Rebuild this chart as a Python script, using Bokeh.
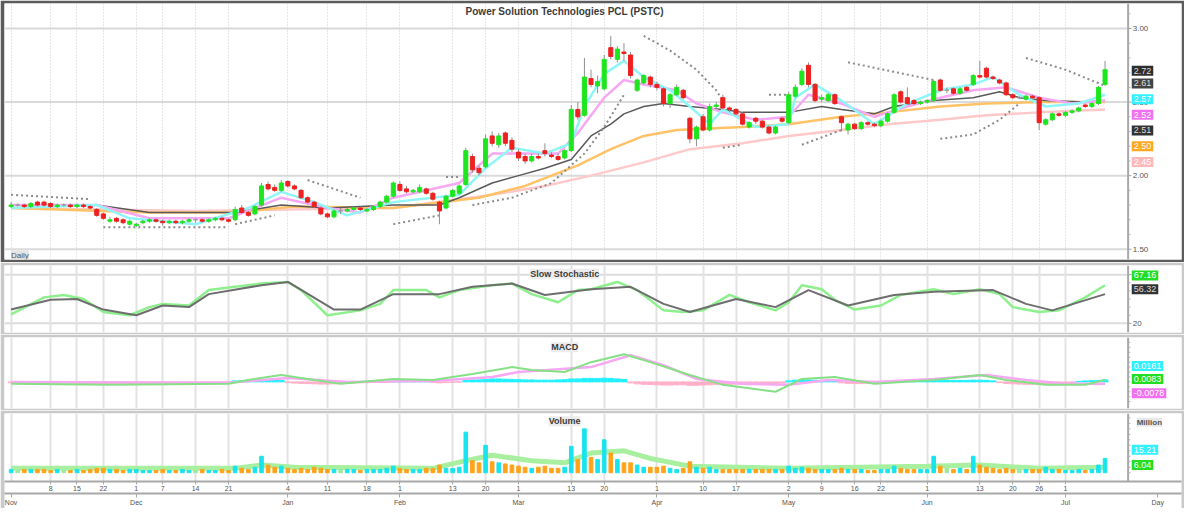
from bokeh.plotting import figure
from bokeh.models import (LinearAxis, Range1d, FixedTicker, Label, Grid, Span)
from bokeh.layouts import column
from bokeh.embed import file_html
from bokeh.resources import INLINE
from bokeh.core.properties import value

# ---------------- data ----------------
opens = [1.79,1.80,1.80,1.79,1.82,1.82,1.81,1.79,1.80,1.80,
         1.79,1.80,1.79,1.77,1.74,1.69,1.71,1.70,1.67,1.66,
         1.68,1.69,1.70,1.69,1.68,1.69,1.68,1.69,1.70,1.70,
         1.69,1.70,1.71,1.70,1.70,1.78,1.75,1.74,1.80,1.94,
         1.92,1.90,1.96,1.93,1.90,1.85,1.82,1.78,1.74,1.72,
         1.76,1.76,1.77,1.78,1.76,1.77,1.79,1.82,1.86,1.94,
         1.91,1.89,1.89,1.91,1.88,1.82,1.78,1.86,1.88,1.94,
         2.13,2.05,2.06,2.27,2.21,2.29,2.24,2.16,2.13,2.10,
         2.13,2.17,2.14,2.13,2.12,2.17,2.45,2.41,2.66,2.61,
         2.59,2.87,2.79,2.84,2.82,2.58,2.63,2.67,2.62,2.59,
         2.49,2.55,2.58,2.39,2.25,2.40,2.31,2.47,2.53,2.46,
         2.45,2.42,2.33,2.39,2.37,2.33,2.29,2.39,2.36,2.54,
         2.62,2.75,2.62,2.52,2.51,2.55,2.40,2.31,2.35,2.32,
         2.36,2.35,2.34,2.37,2.43,2.57,2.53,2.51,2.49,2.50,
         2.51,2.65,2.58,2.59,2.56,2.60,2.62,2.68,2.73,2.67,
         2.65,2.63,2.55,2.53,2.52,2.54,2.53,2.35,2.38,2.42,
         2.41,2.43,2.44,2.48,2.47,2.49,2.62]
highs = [1.82,1.81,1.81,1.82,1.83,1.83,1.82,1.81,1.81,1.81,
         1.81,1.81,1.80,1.78,1.75,1.72,1.72,1.71,1.70,1.68,
         1.70,1.71,1.71,1.70,1.70,1.70,1.70,1.71,1.71,1.71,
         1.71,1.72,1.72,1.71,1.79,1.80,1.76,1.80,1.95,1.96,
         1.94,1.97,1.97,1.94,1.91,1.86,1.83,1.79,1.75,1.77,
         1.78,1.78,1.79,1.79,1.78,1.80,1.83,1.87,1.96,1.96,
         1.93,1.91,1.94,1.92,1.89,1.83,1.87,1.91,1.94,2.19,
         2.15,2.07,2.28,2.30,2.29,2.30,2.26,2.18,2.15,2.15,
         2.15,2.22,2.16,2.15,2.18,2.48,2.50,2.80,2.72,2.68,
         2.82,2.95,2.88,2.90,2.84,2.66,2.69,2.68,2.64,2.60,
         2.56,2.62,2.59,2.40,2.34,2.42,2.49,2.50,2.55,2.47,
         2.46,2.43,2.37,2.40,2.38,2.34,2.34,2.40,2.57,2.62,
         2.73,2.77,2.63,2.55,2.56,2.56,2.41,2.36,2.36,2.37,
         2.37,2.36,2.38,2.43,2.56,2.58,2.60,2.52,2.51,2.52,
         2.65,2.66,2.60,2.60,2.60,2.61,2.69,2.78,2.74,2.68,
         2.66,2.64,2.56,2.54,2.55,2.55,2.54,2.39,2.43,2.43,
         2.44,2.45,2.47,2.49,2.50,2.61,2.78]
lows = [1.78,1.79,1.78,1.78,1.79,1.79,1.78,1.78,1.79,1.78,
        1.78,1.78,1.77,1.72,1.70,1.68,1.68,1.67,1.66,1.65,
        1.67,1.68,1.68,1.66,1.67,1.67,1.67,1.68,1.68,1.68,
        1.68,1.69,1.69,1.68,1.69,1.74,1.72,1.73,1.79,1.90,
        1.89,1.89,1.92,1.90,1.84,1.81,1.78,1.73,1.71,1.71,
        1.74,1.75,1.76,1.76,1.75,1.76,1.78,1.81,1.85,1.89,
        1.88,1.88,1.88,1.87,1.83,1.67,1.77,1.85,1.87,1.93,
        2.02,2.00,2.05,2.20,2.19,2.20,2.16,2.10,2.08,2.09,
        2.11,2.13,2.12,2.10,2.11,2.16,2.38,2.40,2.60,2.56,
        2.58,2.79,2.77,2.78,2.66,2.57,2.62,2.60,2.58,2.47,
        2.46,2.54,2.52,2.22,2.20,2.30,2.30,2.45,2.45,2.43,
        2.41,2.34,2.32,2.35,2.32,2.28,2.28,2.36,2.35,2.53,
        2.61,2.60,2.50,2.50,2.50,2.48,2.30,2.28,2.31,2.31,
        2.34,2.33,2.33,2.36,2.42,2.49,2.48,2.48,2.48,2.49,
        2.50,2.57,2.56,2.55,2.55,2.57,2.61,2.66,2.66,2.65,
        2.62,2.54,2.52,2.52,2.51,2.52,2.31,2.34,2.37,2.40,
        2.40,2.42,2.43,2.46,2.46,2.48,2.61]
closes = [1.80,1.80,1.79,1.81,1.80,1.80,1.79,1.80,1.80,1.79,
          1.80,1.79,1.78,1.73,1.71,1.70,1.69,1.68,1.69,1.67,
          1.69,1.70,1.69,1.68,1.69,1.68,1.69,1.70,1.70,1.69,
          1.70,1.71,1.70,1.69,1.77,1.75,1.73,1.79,1.93,1.91,
          1.90,1.95,1.93,1.91,1.85,1.82,1.79,1.74,1.72,1.76,
          1.76,1.77,1.78,1.77,1.77,1.79,1.82,1.86,1.95,1.90,
          1.89,1.90,1.92,1.88,1.84,1.76,1.86,1.90,1.93,2.17,
          2.04,2.02,2.25,2.22,2.27,2.22,2.18,2.12,2.10,2.13,
          2.12,2.15,2.13,2.11,2.17,2.45,2.40,2.67,2.62,2.64,
          2.79,2.81,2.86,2.83,2.68,2.65,2.68,2.62,2.60,2.49,
          2.55,2.60,2.53,2.25,2.33,2.31,2.47,2.48,2.46,2.45,
          2.42,2.35,2.36,2.37,2.33,2.29,2.33,2.37,2.55,2.60,
          2.71,2.62,2.51,2.53,2.55,2.49,2.36,2.35,2.32,2.36,
          2.35,2.34,2.37,2.42,2.55,2.50,2.49,2.49,2.50,2.51,
          2.64,2.58,2.58,2.56,2.59,2.58,2.68,2.67,2.67,2.66,
          2.63,2.55,2.53,2.53,2.54,2.53,2.36,2.38,2.42,2.41,
          2.43,2.44,2.46,2.47,2.49,2.60,2.72]
volume = [3,2,3,3,3,3,2,3,2,2,
          3,2,3,4,4,3,3,2,3,3,
          2,2,2,3,2,2,3,2,2,3,
          2,2,3,2,6,4,3,5,15,7,
          5,6,4,3,4,3,5,4,3,3,
          3,3,3,2,3,3,3,4,6,4,
          3,3,3,4,4,7,4,4,5,37,
          11,9,25,10,9,8,7,6,5,4,
          5,6,4,4,5,24,12,40,14,12,
          30,18,12,9,9,7,5,5,5,6,
          4,3,4,10,5,4,5,3,3,3,
          3,3,3,3,3,3,3,3,6,4,
          5,4,3,3,3,3,4,3,3,3,
          2,2,3,3,6,4,3,3,3,3,
          15,6,4,3,4,3,15,7,5,4,
          3,4,3,3,3,3,3,5,3,3,
          2,2,3,2,3,7,13]
macd_hist = [-0.004,-0.005,-0.006,-0.006,-0.007,-0.007,-0.006,-0.006,-0.005,-0.005,
             -0.006,-0.007,-0.008,-0.009,-0.009,-0.008,-0.008,-0.007,-0.007,-0.006,
             -0.006,-0.006,-0.005,-0.005,-0.005,-0.004,-0.004,-0.004,-0.004,-0.003,
             -0.003,-0.003,-0.002,-0.002,0.004,0.006,0.007,0.008,0.010,0.010,
             0.008,0.006,-0.003,-0.005,-0.006,-0.007,-0.008,-0.009,-0.009,-0.008,
             -0.007,-0.006,-0.005,-0.004,-0.003,-0.002,-0.002,-0.001,0.003,0.005,
             0.006,0.005,0.004,0.002,-0.002,-0.004,-0.003,-0.002,-0.001,0.006,
             0.008,0.008,0.010,0.012,0.012,0.011,0.010,0.009,0.008,0.008,
             0.007,0.007,0.007,0.008,0.009,0.012,0.012,0.014,0.014,0.014,
             0.015,0.014,0.012,0.010,-0.004,-0.008,-0.010,-0.011,-0.012,-0.013,
             -0.013,-0.012,-0.012,-0.014,-0.014,-0.013,-0.012,-0.011,-0.010,-0.010,
             -0.009,-0.009,-0.008,-0.008,-0.007,-0.007,-0.006,-0.004,0.004,0.007,
             0.008,0.008,0.007,0.006,0.004,0.002,-0.004,-0.006,-0.007,-0.007,
             -0.006,-0.005,-0.004,-0.002,0.003,0.005,0.006,0.006,0.006,0.006,
             0.007,0.007,0.006,0.006,0.006,0.006,0.007,0.007,0.006,0.004,
             -0.003,-0.006,-0.008,-0.009,-0.010,-0.010,-0.011,-0.010,-0.009,-0.008,
             -0.006,-0.003,0.002,0.004,0.005,0.006,0.008]

# moving averages (bar index, price) read at sparse points
ma_fast_x = [0,13,18,28,36,41,46,51,58,68,72,76,81,85,87,90,93,96,100,103,106,108,113,118,119,122,126,131,136,141,146,149,153,157,162,166]
ma_fast_y = [1.78,1.80,1.71,1.67,1.78,1.89,1.82,1.73,1.82,1.87,2.05,2.19,2.15,2.22,2.47,2.69,2.78,2.67,2.58,2.47,2.35,2.45,2.33,2.35,2.53,2.62,2.51,2.35,2.49,2.58,2.62,2.67,2.55,2.47,2.49,2.55]
ma_mid_x = [0,13,21,33,41,48,53,58,68,73,78,83,86,90,93,96,101,104,108,113,118,121,126,131,136,141,146,151,156,161,166]
ma_mid_y = [1.80,1.80,1.71,1.71,1.85,1.78,1.75,1.85,1.95,2.15,2.15,2.15,2.29,2.53,2.65,2.62,2.58,2.49,2.43,2.38,2.40,2.55,2.49,2.40,2.47,2.53,2.58,2.60,2.53,2.49,2.51]
ma_slow_x = [0,13,21,28,34,41,48,58,65,68,73,77,81,85,88,91,93,96,99,103,108,111,118,123,126,131,134,140,146,150,153,157,163,166]
ma_slow_y = [1.80,1.80,1.75,1.75,1.75,1.80,1.78,1.80,1.80,1.85,1.95,2.00,2.05,2.11,2.27,2.35,2.42,2.47,2.49,2.47,2.45,2.43,2.43,2.47,2.45,2.42,2.47,2.51,2.53,2.57,2.53,2.51,2.50,2.51]
ma_orange_x = [0,21,34,43,58,71,78,86,91,96,101,106,111,118,126,133,141,148,156,166]
ma_orange_y = [1.78,1.75,1.75,1.79,1.78,1.85,1.93,2.07,2.18,2.27,2.31,2.32,2.33,2.35,2.40,2.43,2.47,2.49,2.50,2.50]
ma_pink_x = [0,28,58,73,81,88,96,103,111,118,126,133,141,148,156,166]
ma_pink_y = [1.78,1.76,1.78,1.87,1.93,2.00,2.09,2.18,2.22,2.27,2.31,2.35,2.38,2.41,2.43,2.45]

# parabolic SAR segments (bar index, price)
sar_segments = [
    ([0, 12], [1.87, 1.84]),
    ([14, 33], [1.65, 1.65]),
    ([34, 40], [1.67, 1.73]),
    ([45, 53], [1.97, 1.85]),
    ([58, 65], [1.67, 1.73]),
    ([66, 68], [1.99, 1.99]),
    ([70, 76, 82, 87, 90, 93], [1.80, 1.85, 1.95, 2.15, 2.33, 2.55]),
    ([96, 100, 104, 107, 108], [2.95, 2.85, 2.72, 2.58, 2.51]),
    ([108, 111], [2.19, 2.21]),
    ([115, 118], [2.55, 2.55]),
    ([120, 126], [2.21, 2.31]),
    ([127, 140], [2.77, 2.65]),
    ([141, 146, 150, 153], [2.25, 2.28, 2.38, 2.49]),
    ([154, 160, 166], [2.80, 2.72, 2.61]),
]

# slow stochastic
stk_x = [0,5,8,11,14,18,21,23,27,30,34,38,42,44,48,53,56,58,63,65,68,73,76,79,83,86,88,92,95,99,102,105,109,112,116,118,120,123,125,128,132,135,140,143,147,150,152,156,159,163,166]
stk_y = [31,52,55,50,34,30,40,44,42,61,65,69,71,61,30,36,44,61,61,52,61,67,69,56,46,61,62,71,61,36,34,36,55,46,36,46,67,62,49,37,42,55,62,56,62,56,40,34,36,52,67]
std_x = [0,6,10,14,19,23,27,30,38,42,49,53,58,65,70,76,81,88,94,99,103,110,116,121,127,134,140,149,154,158,166]
std_y = [37,49,50,37,30,42,40,56,67,71,37,37,56,56,65,69,55,62,65,44,34,50,40,61,42,55,59,61,44,36,56]

# MACD lines
macd_x = [0,15,33,36,41,45,50,58,64,70,76,79,84,88,93,97,103,108,116,120,125,131,140,147,151,157,163,166]
macd_y = [-0.008,-0.012,-0.008,0.008,0.028,0.012,-0.008,0.012,0.008,0.032,0.060,0.048,0.040,0.080,0.112,0.080,0.028,-0.012,-0.040,0.012,0.020,-0.008,0.008,0.028,0.008,-0.012,-0.012,0.008]
sig_x = [0,33,42,51,64,73,77,88,94,99,104,111,118,124,131,140,148,154,160,166]
sig_y = [0.0,-0.004,0.016,0.0,0.004,0.020,0.040,0.060,0.108,0.068,0.012,-0.008,-0.012,0.008,0.0,0.012,0.028,0.008,-0.008,-0.008]

# volume average
vma_x = [0,34,38,43,64,69,73,79,84,88,93,97,103,118,139,147,156,166]
vma_y = [4,4,7,5,4,11,16,11,9,18,20,13,6,4,6,7,4,5]

# axis ticks and labels
price_ticks = [1.5, 2.0, 2.5, 3.0]
price_labels = ["1.50", "2.00", "2.50", "3.00"]
stoch_ticks = [20, 80]
stoch_labels = ["20", "80"]
day_ticks = [6,10,14,19,23,28,33,42,48,54,59,67,72,77,85,90,98,105,110,118,123,128,132,139,147,152,156,160]
day_labels = ["8","15","22","1","7","14","21","4","11","18","1","13","20","1","13","20","1","10","17","2","9","16","22","1","13","20","26","1"]
month_ticks = [0,19,42,59,77,98,118,139,160]
month_labels = ["Nov","Dec","Jan","Feb","Mar","Apr","May","Jun","Jul"]

# ---------------- styling ----------------
FONT = "Liberation Sans"
W = 1184
N = len(closes)
bars = list(range(N))
AX = 169.5          # position of the price-scale line
xr = Range1d(-1.0, 177.6)
grid_ticks = sorted(set(day_ticks + month_ticks))

UP, DOWN, FLAT = "#1ee61e", "#ee2020", "#9a9a9a"
body_col = [UP if c > o else (DOWN if c < o else FLAT) for o, c in zip(opens, closes)]
vol_col = ["#19e3ee" if c > o else ("#ffa31a" if c < o else "#9ee89e") for o, c in zip(opens, closes)]
body_top = [max(o, c) for o, c in zip(opens, closes)]
body_bot = [min(o, c) for o, c in zip(opens, closes)]


def base_fig(height, yr, border, top=3, bottom=2):
    f = figure(width=W, height=height, x_range=xr, y_range=Range1d(*yr),
               output_backend="svg", toolbar_location=None,
               x_axis_location=None, y_axis_location=None,
               min_border_left=4, min_border_right=3,
               min_border_top=top, min_border_bottom=bottom,
               border_fill_color=border, background_fill_color="white",
               outline_line_color=None)
    f.xgrid.visible = False
    f.ygrid.visible = False
    return f


def vgrid(f, dash=None, color="#e2e2e2", width=2):
    g = Grid(dimension=0, ticker=FixedTicker(ticks=grid_ticks),
             grid_line_color=color, grid_line_width=width)
    if dash:
        g.grid_line_dash = dash
    f.add_layout(g)


def hgrid(f, ticks, color="#dadada", width=2):
    f.segment(x0=[-1.0] * len(ticks), x1=[AX] * len(ticks), y0=ticks, y1=ticks,
              line_color=color, line_width=width, level="underlay")


def price_scale(f, ticks=None, labels=None, y0=0.0, y1=1.0, minor=None):
    f.add_layout(Span(location=AX, dimension="height", line_color="#a8a8a8", line_width=2))
    if minor:
        f.segment(x0=[AX] * len(minor), x1=[AX + 0.35] * len(minor), y0=minor, y1=minor,
                  line_color="#b4b4b4", line_width=1)
    if ticks:
        f.segment(x0=[AX] * len(ticks), x1=[AX + 0.5] * len(ticks), y0=ticks, y1=ticks,
                  line_color="#a0a0a0", line_width=1)
    if labels:
        f.text(x=[AX + 0.7] * len(ticks), y=ticks, text=labels,
               text_font=value(FONT), text_font_size=value("8px"),
               text_color="#555555", text_baseline="middle", text_align="left")


def box(f, y, text, bg, fg="white"):
    f.add_layout(Label(x=AX + 0.55, y=y, text=text, text_font=FONT, text_font_size="9px",
                       text_color=fg, text_baseline="middle", text_align="left",
                       background_fill_color=bg, background_fill_alpha=1.0,
                       padding=2))


def title(f, x, y, text, size="9px", bg=None):
    lab = Label(x=x, y=y, text=text, text_font=FONT, text_font_size=size,
                text_font_style="bold", text_color="#3c3c3c",
                text_align="center", text_baseline="middle")
    if bg:
        lab.background_fill_color = bg
        lab.background_fill_alpha = 1.0
    f.add_layout(lab)


# ---------------- main price panel ----------------
pm = base_fig(262, (1.43, 3.17), "#5c5c5c", top=3, bottom=3)
vgrid(pm, dash="1 2", color="#cfcfcf", width=1)
hgrid(pm, price_ticks)

pm.line(ma_pink_x, ma_pink_y, line_color="#ffc9c9", line_width=2.5)
pm.line(ma_orange_x, ma_orange_y, line_color="#ffc266", line_width=2.5)
pm.line(ma_slow_x, ma_slow_y, line_color="#5a5a5a", line_width=1.5)
pm.line(ma_mid_x, ma_mid_y, line_color="#f7a8f4", line_width=2.5)
pm.line(ma_fast_x, ma_fast_y, line_color="#8ff6f8", line_width=2.5)
for sx, sy in sar_segments:
    pm.line(sx, sy, line_color="#8c8c8c", line_width=2, line_dash="2 3")

pm.segment(x0=bars, y0=lows, x1=bars, y1=highs, line_color="#909090", line_width=1)
pm.vbar(x=bars, width=0.62, top=body_top, bottom=body_bot,
        fill_color=body_col, line_color=body_col, line_width=1)

price_scale(pm, price_ticks, price_labels,
            minor=[1.5 + 0.1 * k for k in range(-1, 17) if k % 5 != 0])
title(pm, 84, 3.115, "Power Solution Technologies PCL (PSTC)", size="10px")
pm.add_layout(Label(x=0, y=1.46, text="Daily", text_font=FONT, text_font_size="8px",
                    text_color="#555555", background_fill_color="#e4e4e4",
                    background_fill_alpha=1.0, text_baseline="middle"))

box(pm, 2.713, "2.72", "#2e2e2e", "#dddddd")
box(pm, 2.627, "2.61", "#444444", "#dddddd")
box(pm, 2.52, "2.57", "#33f0ff")
box(pm, 2.413, "2.52", "#f070f0")
box(pm, 2.307, "2.51", "#333333", "#dddddd")
box(pm, 2.20, "2.50", "#ffa820")
box(pm, 2.093, "2.45", "#ffb8b8")

# ---------------- slow stochastic ----------------
ps = base_fig(72, (8.75, 91.25), "#c9c9c9")
vgrid(ps)
hgrid(ps, stoch_ticks, color="#dddddd")
ps.line(stk_x, stk_y, line_color="#8df08d", line_width=2.5)
ps.line(std_x, std_y, line_color="#6e6e6e", line_width=2)
price_scale(ps, stoch_ticks, stoch_labels, minor=[30, 40, 50, 60, 70])
title(ps, 84, 81, "Slow Stochastic", bg="#ececec")
box(ps, 79, "67.16", "#22dd22")
box(ps, 62, "56.32", "#333333", "#dddddd")

# ---------------- MACD ----------------
pd_ = base_fig(76, (-0.108, 0.18), "#c9c9c9")
vgrid(pd_)
hist_col = ["#22f0ff" if v >= 0 else "#ffb0c8" for v in macd_hist]
pd_.vbar(x=bars, width=0.9, top=macd_hist, bottom=0, fill_color=hist_col,
         line_color=hist_col)
pd_.line(sig_x, sig_y, line_color="#f6a8f2", line_width=2.5)
pd_.line(macd_x, macd_y, line_color="#86e086", line_width=2)
price_scale(pd_, minor=[-0.08, -0.06, -0.04, -0.02, 0.0, 0.02, 0.04, 0.06, 0.08, 0.10, 0.12, 0.14, 0.16])
title(pd_, 84, 0.14, "MACD", bg="#ececec")
box(pd_, 0.064, "0.0161", "#33f0ff")
box(pd_, 0.012, "0.0083", "#22dd22")
box(pd_, -0.046, "-0.0078", "#f070f0")

# ---------------- volume + date axis ----------------
pv = base_fig(98, (-8, 54), "#c9c9c9", top=3, bottom=2)
vgrid(pv)
pv.line(vma_x, vma_y, line_color="#a8f0a0", line_width=5)
pv.vbar(x=bars, width=0.55, top=volume, bottom=0, fill_color=vol_col, line_color=vol_col)
price_scale(pv, minor=[0, 5, 10, 15, 20, 25, 30, 35, 40, 45, 50])
title(pv, 84, 47, "Volume", bg="#ececec")
pv.add_layout(Label(x=AX + 1.3, y=46, text="Million", text_font=FONT, text_font_size="8px",
                    text_font_style="bold", text_color="#555555",
                    background_fill_color="#e8e8e8", background_fill_alpha=1.0,
                    text_baseline="middle"))
box(pv, 21, "15.21", "#33f0ff")
box(pv, 7, "6.04", "#22dd22")

day_axis = LinearAxis(ticker=FixedTicker(ticks=day_ticks),
                      major_label_overrides={t: l for t, l in zip(day_ticks, day_labels)},
                      background_fill_color="white",
                      axis_line_color="#a8a8a8", axis_line_width=2,
                      major_tick_line_color="#a8a8a8", major_tick_in=0, major_tick_out=3,
                      minor_tick_line_color=None,
                      major_label_text_font_size="7px", major_label_text_color="#555555",
                      major_label_text_font=FONT, major_label_standoff=1)
pv.add_layout(day_axis, "below")
mon_ticks = month_ticks + [174]
mon_labels = month_labels + ["Day"]
mon_axis = LinearAxis(ticker=FixedTicker(ticks=mon_ticks),
                      major_label_overrides={t: l for t, l in zip(mon_ticks, mon_labels)},
                      background_fill_color="white",
                      axis_line_color="#a8a8a8", axis_line_width=2,
                      major_tick_line_color="#a8a8a8", major_tick_in=0, major_tick_out=4,
                      minor_tick_line_color=None,
                      major_label_text_font_size="7px", major_label_text_color="#555555",
                      major_label_text_font=FONT, major_label_standoff=1)
pv.add_layout(mon_axis, "below")

layout = column(pm, ps, pd_, pv, spacing=0)
open("out.html", "w").write(file_html(layout, INLINE))
